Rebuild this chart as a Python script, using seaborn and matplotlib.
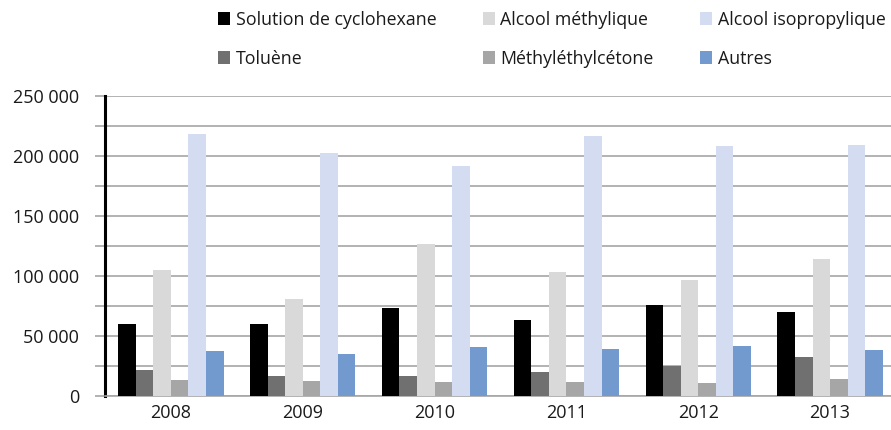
import pandas as pd
import matplotlib
matplotlib.use("Agg")
import matplotlib.pyplot as plt
import seaborn as sns

# données
annees = ["2008", "2009", "2010", "2011", "2012", "2013"]
solvants = ["Solution de cyclohexane", "Toluène", "Alcool méthylique",
            "Méthyléthylcétone", "Alcool isopropylique", "Autres"]
cyclohexane = [60000, 60000, 73300, 63300, 75800, 70000]
toluene = [21700, 16700, 16700, 20000, 25000, 32500]
methylique = [105000, 80800, 126700, 103300, 96700, 114200]
mek = [13300, 12500, 11700, 11700, 10800, 14200]
isopropylique = [218300, 202500, 191700, 216700, 208300, 209200]
autres = [37500, 35000, 40800, 39200, 41700, 38300]
couleurs = ["#000000", "#707070", "#d9d9d9", "#a6a6a6", "#d3dcf0", "#729acf"]

series = [cyclohexane, toluene, methylique, mek, isopropylique, autres]
rows = []
for nom, vals in zip(solvants, series):
    for an, v in zip(annees, vals):
        rows.append({"Année": an, "Solvant": nom, "Valeur": v})
df = pd.DataFrame(rows)

sns.set_style("white")
plt.rcParams["font.family"] = ["Open Sans", "DejaVu Sans"]
texte = "#1a1a1a"

fig = plt.figure(figsize=(8.91, 4.30), dpi=100)
ax = fig.add_axes([105 / 891, 1 - 396 / 430, 791 / 891, 300 / 430])

sns.barplot(data=df, x="Année", y="Valeur", hue="Solvant", order=annees,
            hue_order=solvants, palette=dict(zip(solvants, couleurs)),
            width=0.8, gap=0, saturation=1, errorbar=None, ax=ax, zorder=3,
            linewidth=0)

ax.set_ylim(0, 250000)
ax.set_yticks(range(0, 250001, 25000))
ax.set_yticklabels([f"{v:,}".replace(",", " ") if v % 50000 == 0 else ""
                    for v in range(0, 250001, 25000)])
ax.yaxis.grid(True, color="#a6a6a6", linewidth=1.2, zorder=0)
ax.set_axisbelow(True)
ax.tick_params(axis="y", length=7, width=1.2, color="#a6a6a6", pad=11.5,
               labelsize=13, labelcolor=texte, left=True)
ax.tick_params(axis="x", length=0, pad=6, labelsize=13, labelcolor=texte)
ax.set_xlabel("")
ax.set_ylabel("")

for s in ["top", "right"]:
    ax.spines[s].set_visible(False)
ax.spines["left"].set_color("#000000")
ax.spines["left"].set_linewidth(2.2)
ax.spines["bottom"].set_color("#a6a6a6")
ax.spines["bottom"].set_linewidth(1.2)

h, l = ax.get_legend_handles_labels()
ax.get_legend().remove()
fig.legend(h, l, ncol=3, loc="upper left", bbox_to_anchor=(202 / 891, 1.012),
           frameon=False, fontsize=12.8, handlelength=0.7, handleheight=0.7,
           handletextpad=0.3, columnspacing=2.6, labelspacing=1.18,
           labelcolor=texte)

plt.savefig("out.png", dpi=100)
